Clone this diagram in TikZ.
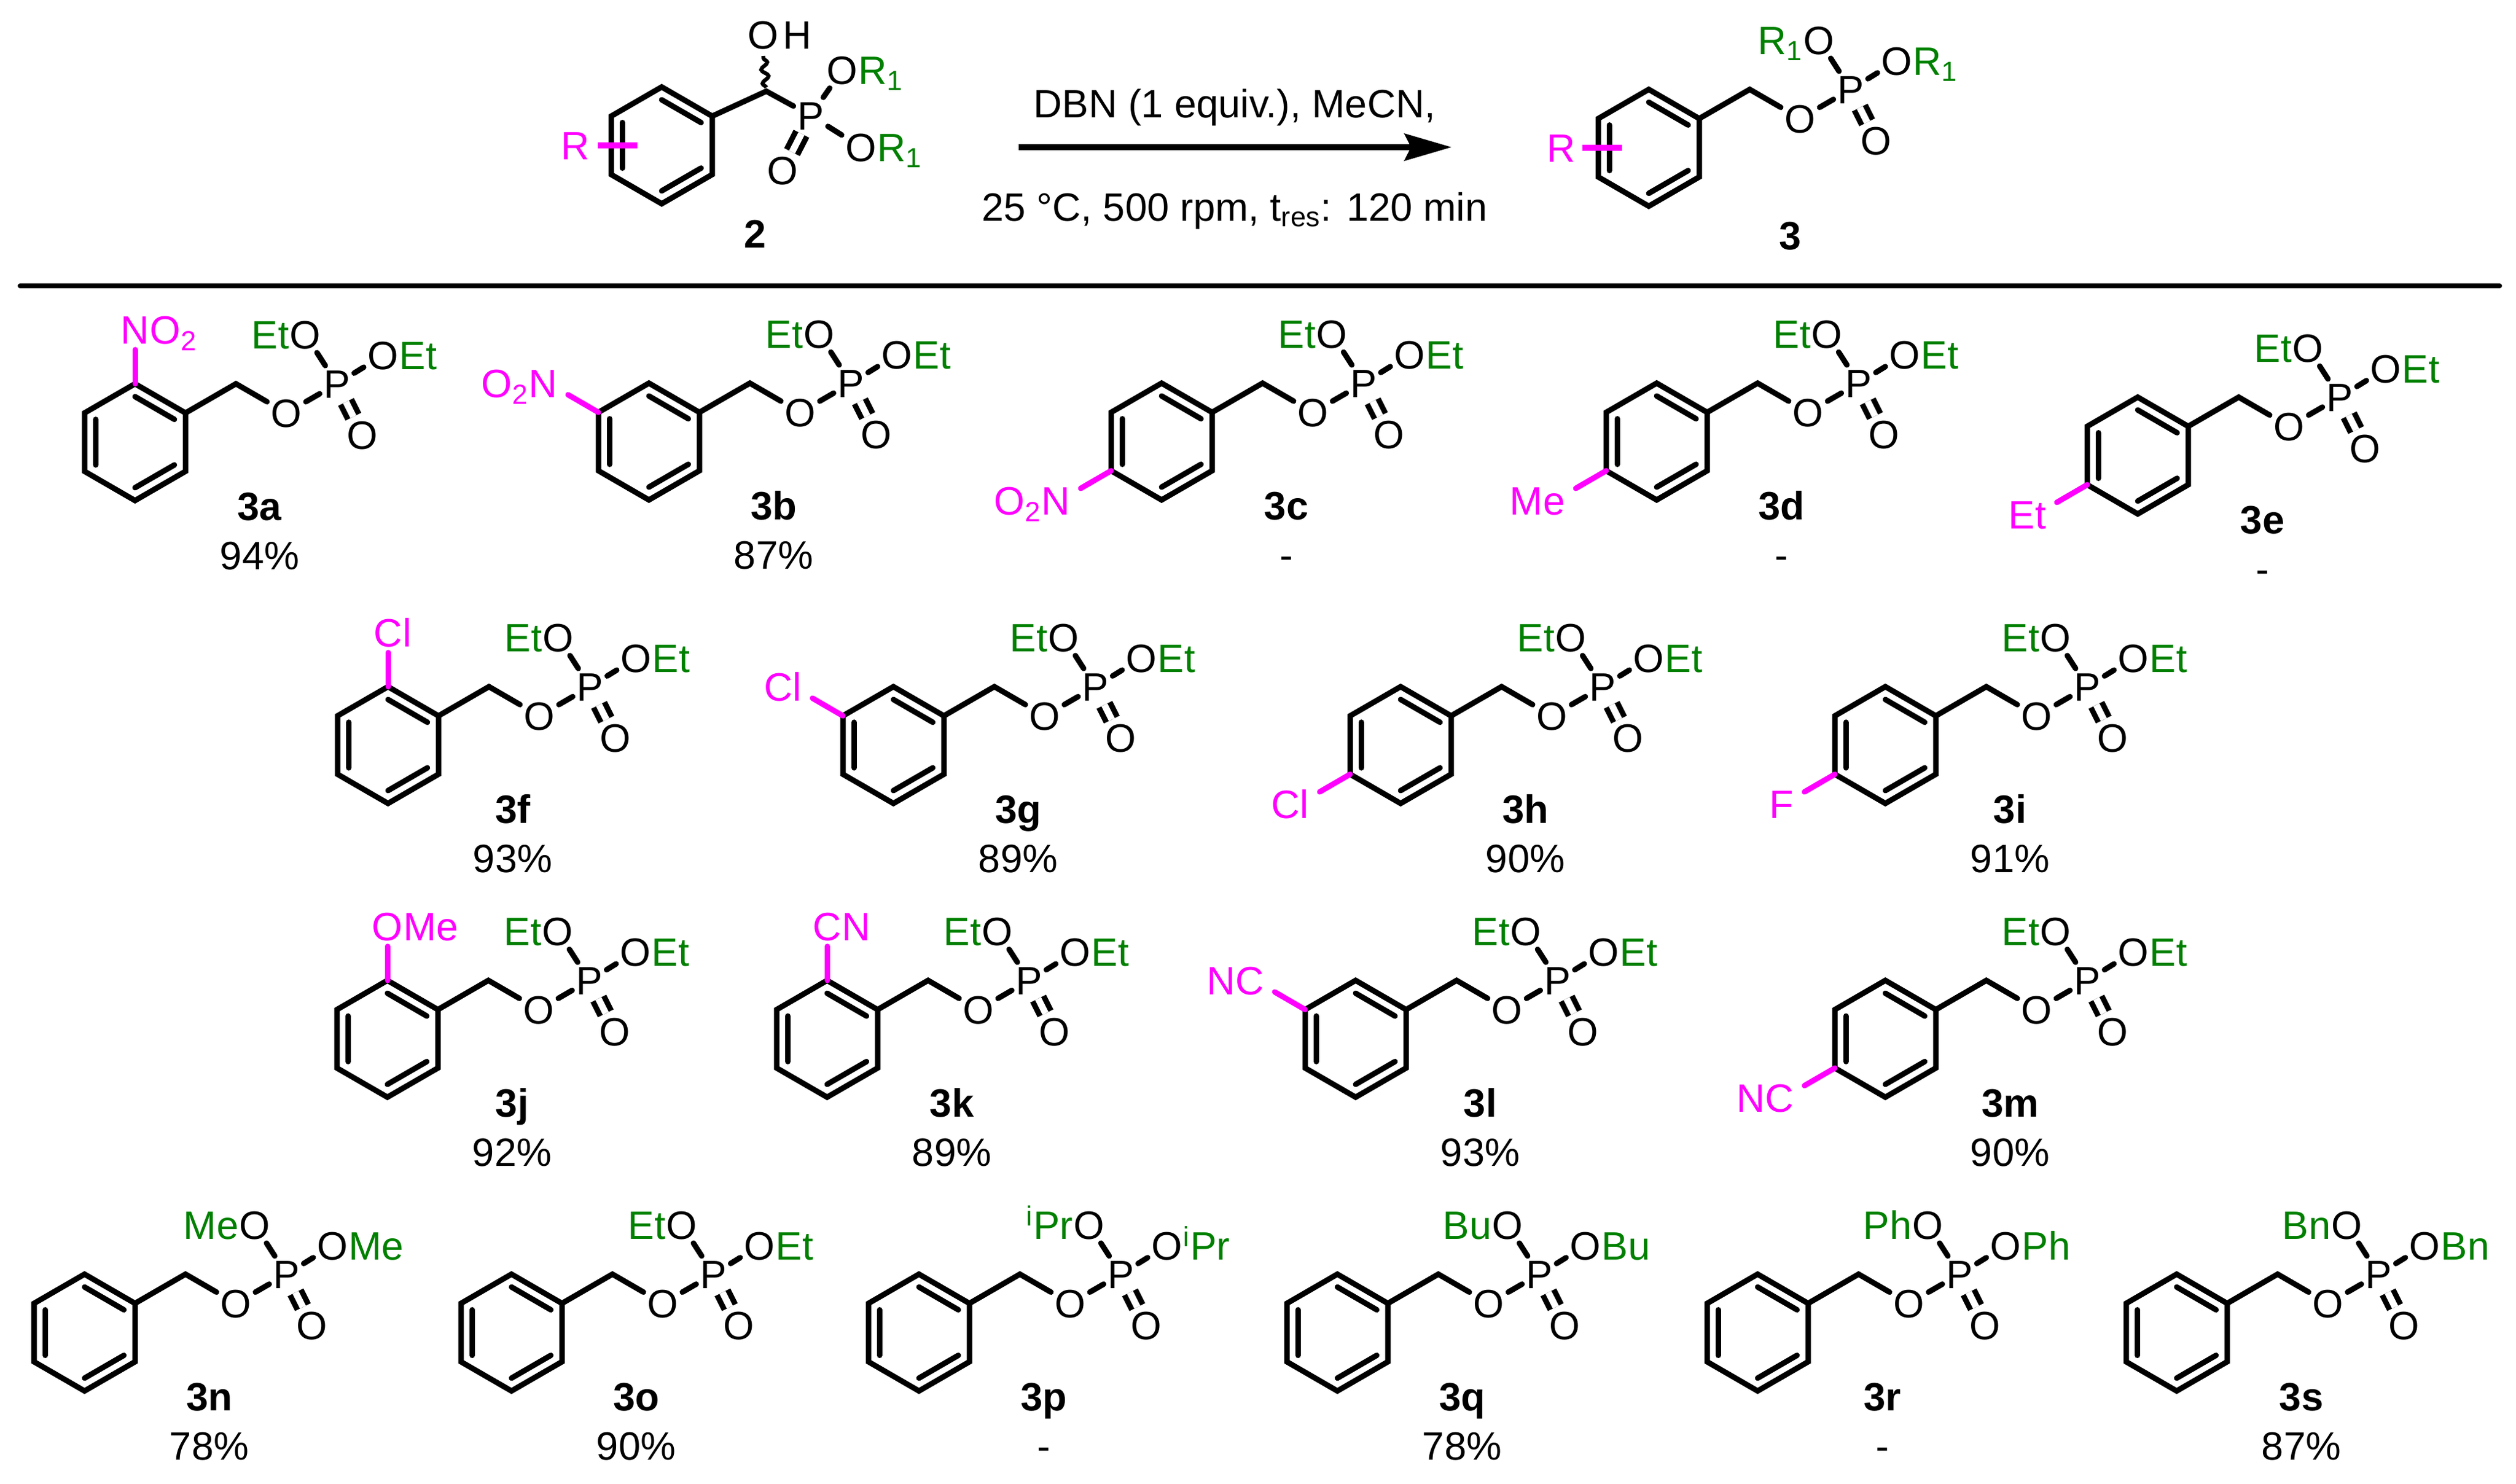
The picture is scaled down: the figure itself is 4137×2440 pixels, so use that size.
\documentclass[tikz,border=0pt]{standalone}
\usepackage{fontspec}
\setmainfont{Liberation Sans}
\usetikzlibrary{calc,arrows.meta,decorations.pathmorphing}
\definecolor{grn}{RGB}{0,128,0}
\definecolor{mag}{RGB}{255,0,255}
\newcommand\chemfont{\fontsize{18.5}{20}\selectfont}
\tikzset{
 bond/.style={line width=2.56pt, line cap=round},
 sbond/.style={bond, mag},
 dbl/.style={line width=2.56pt, double, double distance=3.1pt},
 atom/.style={font=\chemfont, inner sep=1.7pt, text height=13.2pt, text depth=0pt},
 grp/.style={font=\chemfont, grn, inner sep=0pt, text height=13.2pt, text depth=0pt},
 subst/.style={font=\chemfont, mag, inner sep=0pt, text height=13.2pt, text depth=0pt},
 lbl/.style={font=\chemfont\bfseries, inner sep=0pt, text height=13.2pt, text depth=0pt},
 yld/.style={font=\chemfont, inner sep=0pt, text height=13.2pt, text depth=0pt}
}
\newcommand\ring{%
 \draw[bond, line join=miter] (0,-96)--(83,-48)--(83,48)--(0,96)--(-83,48)--(-83,-48)--cycle;
 \draw[bond] ($(0,-96)!0.22!(0,0)$) -- ($(83,-48)!0.22!(0,0)$);
 \draw[bond] ($(83,48)!0.22!(0,0)$) -- ($(0,96)!0.22!(0,0)$);
 \draw[bond] ($(-83,48)!0.22!(0,0)$) -- ($(-83,-48)!0.22!(0,0)$);
}
% #1 name, #2 left group, #3 right group
\newcommand\phos[3]{%
 \coordinate (#1ur) at (83,-48);
 \coordinate (#1c) at (166,-96);
 \node[atom] (#1o) at (249,-48) {O};
 \node[atom] (#1p) at (332,-96) {P};
 \node[atom] (#1u) at (280,-177) {O};
 \node[atom] (#1r) at (408,-143) {O};
 \node[atom] (#1d) at (374,-12) {O};
 \node[grp, anchor=base east] at ($(#1u.base west)+(6,0)$) {#2};
 \node[grp, anchor=base west] at ($(#1r.base east)+(-6,0)$) {#3};
 \draw[bond, line join=miter] (#1ur) -- (#1c) -- (#1o);
 \draw[bond] (#1o) -- (#1p);
 \draw[bond] (#1p) -- (#1u);
 \draw[bond] (#1p) -- (#1r);
 \draw[dbl] (#1p) -- (#1d);
}
\newcommand\orthosub[3]{% name, attached letter, rest
 \coordinate (#1t) at (0,-96); \coordinate (#1e) at (0,-152);
 \draw[sbond] (#1t) -- (#1e);
 \node[subst] (#1s) at (0,-185) {#2};
 \node[subst, anchor=base west] at (#1s.base east) {#3};
}
\newcommand\metasub[2]{%
 \coordinate (#1t) at (-83,-48); \coordinate (#1e) at (-133,-77);
 \draw[sbond] (#1t) -- (#1e);
 \node[subst, anchor=east] (#1s) at (-150,-96) {#2};
}
\newcommand\parasub[2]{%
 \coordinate (#1t) at (-83,48); \coordinate (#1e) at (-133,77);
 \draw[sbond] (#1t) -- (#1e);
 \node[subst, anchor=east] (#1s) at (-150,97) {#2};
}
% #1 x, #2 y, #3 name, #4 subst code, #5 left grp, #6 right grp, #7 label, #8 yield
\newcommand\cmpd[8]{%
 \begin{scope}[shift={(#1,#2)}]
 \ring
 #4
 \phos{#3}{#5}{#6}
 \node[lbl] (#3lab) at (205,105) {#7};
 \node[yld] (#3y) at (205,186) {#8};
 \end{scope}
}
\begin{document}
\begin{tikzpicture}[x=0.01cm,y=-0.01cm]
\useasboundingbox (0,0) rectangle (4137,2440);
% ---- reactant 2
\begin{scope}[shift={(1088,239)}]
 \ring
 \coordinate (rUR) at (83,-48);
 \coordinate (rCH) at (172,-89);
 \node[atom] (rP) at (245,-49) {P};
 \node[atom] (rOH) at (167,-182) {O};
 \node[atom, anchor=base west] at ($(rOH.base east)+(-6,0)$) {H};
 \node[atom] (rO1) at (297,-124) {O};
 \node[grp, anchor=base west] at ($(rO1.base east)+(-6,0)$) {R\textsubscript{1}};
 \node[atom] (rO2) at (328,3) {O};
 \node[grp, anchor=base west] at ($(rO2.base east)+(-6,0)$) {R\textsubscript{1}};
 \node[atom] (rO3) at (199,41) {O};
 \draw[bond, line join=miter] (rUR) -- (rCH) -- (rP);
 \draw[bond] (rP) -- (rO1);
 \draw[bond] (rP) -- (rO2);
 \draw[dbl] (rP) -- (rO3);
 \coordinate (rw1) at (172,-95); \coordinate (rw2) at (167,-147);
 \draw[line width=1.8pt, decorate, decoration={snake, amplitude=1.6pt, segment length=6.5pt}] (rw1) -- (rw2);
 \coordinate (rRa) at (-105,0); \coordinate (rRb) at (-40,0);
 \draw[line width=2.8pt, mag] (rRa) -- (rRb);
 \node[subst, anchor=east] (rR) at (-118,0) {R};
 \node[lbl] (r2) at (154,145) {2};
\end{scope}
% ---- arrow
\coordinate (arA) at (1675,242);
\coordinate (arB) at (2387,242);
\draw[line width=2.85pt, -{Stealth[length=22pt,width=12.5pt,inset=3pt]}] (arA) -- (arB);
\node[yld] (cond1) at (2030,170) {DBN (1 equiv.), MeCN,};
\node[yld] (cond2) at (2030,340) {25 °C, 500 rpm, t\textsubscript{res}: 120 min};
% ---- product 3
\begin{scope}[shift={(2711,243)}]
 \ring
 \phos{pr}{R\textsubscript{1}}{R\textsubscript{1}}
 \coordinate (pRa) at (-109,0); \coordinate (pRb) at (-44,0);
 \draw[line width=2.8pt, mag] (pRa) -- (pRb);
 \node[subst, anchor=east] (pR) at (-120,0) {R};
 \node[lbl] (p3) at (233,144) {3};
\end{scope}
% ---- separator
\coordinate (sepA) at (33,470); \coordinate (sepB) at (4110,470);
\draw[line width=2.3pt, line cap=round] (sepA) -- (sepB);
% ---- row 1
\cmpd{222}{727}{a}{\orthosub{as}{N}{O\textsubscript{2}}}{Et}{Et}{3a}{94\%}
\cmpd{1067}{726}{b}{\metasub{bs}{O\textsubscript{2}N}}{Et}{Et}{3b}{87\%}
\cmpd{1910}{726}{c}{\parasub{cs}{O\textsubscript{2}N}}{Et}{Et}{3c}{-}
\cmpd{2724}{726}{d}{\parasub{ds}{Me}}{Et}{Et}{3d}{-}
\cmpd{3515}{749}{e}{\parasub{es}{Et}}{Et}{Et}{3e}{-}
% ---- row 2
\cmpd{638}{1225}{f}{\orthosub{fs}{C}{l}}{Et}{Et}{3f}{93\%}
\cmpd{1469}{1225}{g}{\metasub{gs}{Cl}}{Et}{Et}{3g}{89\%}
\cmpd{2303}{1225}{h}{\parasub{hs}{Cl}}{Et}{Et}{3h}{90\%}
\cmpd{3100}{1225}{i}{\parasub{is}{F}}{Et}{Et}{3i}{91\%}
% ---- row 3
\cmpd{637}{1708}{j}{\orthosub{js}{O}{Me}}{Et}{Et}{3j}{92\%}
\cmpd{1360}{1708}{k}{\orthosub{ks}{C}{N}}{Et}{Et}{3k}{89\%}
\cmpd{2229}{1708}{l}{\metasub{ls}{NC}}{Et}{Et}{3l}{93\%}
\cmpd{3100}{1708}{m}{\parasub{ms}{NC}}{Et}{Et}{3m}{90\%}
% ---- row 4
\cmpd{139}{2191}{n}{}{Me}{Me}{3n}{78\%}
\cmpd{841}{2191}{o}{}{Et}{Et}{3o}{90\%}
\cmpd{1511}{2191}{p}{}{\textsuperscript{i}Pr}{\textsuperscript{i}Pr}{3p}{-}
\cmpd{2199}{2191}{q}{}{Bu}{Bu}{3q}{78\%}
\cmpd{2890}{2191}{r}{}{Ph}{Ph}{3r}{-}
\cmpd{3579}{2191}{s}{}{Bn}{Bn}{3s}{87\%}
\end{tikzpicture}
\end{document}
